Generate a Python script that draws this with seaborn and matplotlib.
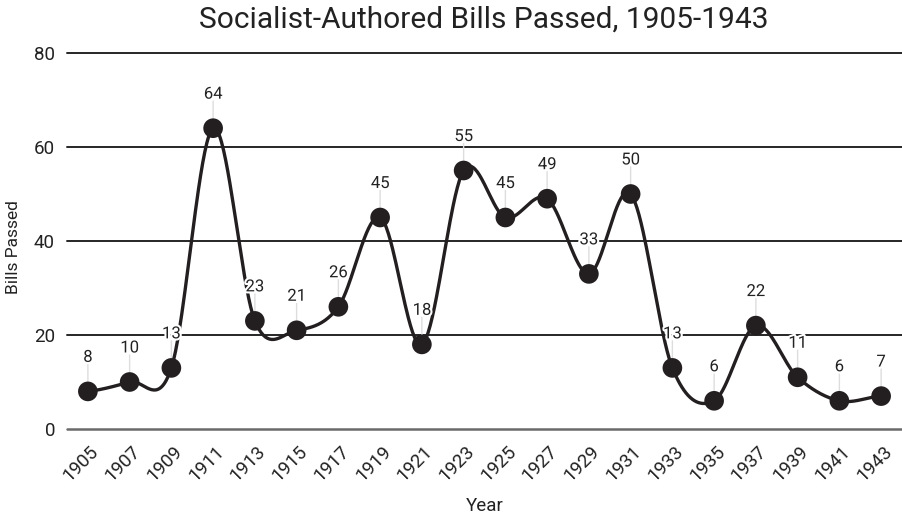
import numpy as np
import pandas as pd
import matplotlib
matplotlib.use("Agg")
import matplotlib.pyplot as plt
import matplotlib.patheffects as pe
import matplotlib.transforms as mtransforms
import seaborn as sns

# Socialist-authored bills passed, by legislative session
years = [1905, 1907, 1909, 1911, 1913, 1915, 1917, 1919, 1921, 1923,
         1925, 1927, 1929, 1931, 1933, 1935, 1937, 1939, 1941, 1943]
bills = [8, 10, 13, 64, 23, 21, 26, 45, 18, 55,
         45, 49, 33, 50, 13, 6, 22, 11, 6, 7]
y_ticks = [0, 20, 40, 60, 80]

title = "Socialist-Authored Bills Passed, 1905-1943"
x_label = "Year"
y_label = "Bills Passed"

INK = "#231f20"
TEXT = "#222222"


def catmull_rom(xs, ys, steps=40):
    """Smooth curve through the points (uniform Catmull-Rom)."""
    xs = np.asarray(xs, float)
    ys = np.asarray(ys, float)
    n = len(ys)
    m = np.empty(n)
    m[1:-1] = (ys[2:] - ys[:-2]) / 2.0
    m[0] = (ys[1] - ys[0]) / 2.0
    m[-1] = (ys[-1] - ys[-2]) / 2.0
    cx, cy = [], []
    for i in range(n - 1):
        t = np.linspace(0, 1, steps, endpoint=(i == n - 2))
        h00 = 2 * t**3 - 3 * t**2 + 1
        h10 = t**3 - 2 * t**2 + t
        h01 = -2 * t**3 + 3 * t**2
        h11 = t**3 - t**2
        cy.append(h00 * ys[i] + h10 * m[i] + h01 * ys[i + 1] + h11 * m[i + 1])
        cx.append(xs[i] + t * (xs[i + 1] - xs[i]))
    return np.concatenate(cx), np.concatenate(cy)


sns.set_theme(style="white")
plt.rcParams["font.family"] = ["Roboto", "DejaVu Sans"]

df = pd.DataFrame({"Year": years, "Bills": bills})
sx, sy = catmull_rom(years, bills)
curve = pd.DataFrame({"Year": sx, "Bills": sy})

fig = plt.figure(figsize=(9.02, 5.17), dpi=100)
ax = fig.add_axes([67 / 902, 1 - 429 / 517, 1 - 67 / 902, (429 - 53) / 517])

# grid lines (baseline in grey, the rest near-black)
for v in y_ticks:
    if v == 0:
        ax.axhline(v, color="#6a6a6a", lw=1.8, zorder=1, clip_on=False)
    else:
        ax.axhline(v, color="#262626", lw=1.4, zorder=1, clip_on=False)

sns.lineplot(data=curve, x="Year", y="Bills", ax=ax, color=INK, lw=2.4,
             zorder=3, sort=False)
sns.scatterplot(data=df, x="Year", y="Bills", ax=ax, color=INK, s=200,
                edgecolor="none", zorder=4)

for yr, b in zip(years, bills):
    # thin leader from the point up to its label
    ax.annotate("", xy=(yr, b), xytext=(0, 19.5), textcoords="offset points",
                arrowprops=dict(arrowstyle="-", color="#dddddd", lw=1,
                                shrinkA=0, shrinkB=0), zorder=2)
    ax.annotate(str(b), xy=(yr, b), xytext=(0, 24.5), textcoords="offset points",
                ha="center", va="center", fontsize=12, color=TEXT, zorder=6,
                path_effects=[pe.withStroke(linewidth=3, foreground="white")])

ax.set_xlim(1904, 1944)
ax.set_ylim(0, 80)
ax.set_yticks(y_ticks)
ax.set_xticks(years)

ax.tick_params(axis="both", length=0, labelsize=13.5, labelcolor=TEXT)
ax.tick_params(axis="y", pad=8.6)
ax.tick_params(axis="x", pad=14)
for s in ax.spines.values():
    s.set_visible(False)
ax.grid(False)

ax.set_xticklabels([str(y) for y in years], rotation=45, ha="right",
                   va="center", rotation_mode="anchor")
offset = mtransforms.ScaledTranslation(8 / 100, 0, fig.dpi_scale_trans)
for lbl in ax.get_xticklabels():
    lbl.set_transform(lbl.get_transform() + offset)

ax.set_xlabel(x_label, fontsize=13.5, color=TEXT, labelpad=9)
ax.set_ylabel(y_label, fontsize=12.5, color=TEXT)
ax.yaxis.set_label_coords(
    21 / 902, 1 - (247 - 53) / (429 - 53),
    transform=mtransforms.blended_transform_factory(fig.transFigure, ax.transAxes))
fig.suptitle(title, x=484 / 902, y=1 - 20 / 517, va="center",
             fontsize=21.5, color=TEXT)

fig.savefig("out.png", dpi=100)
